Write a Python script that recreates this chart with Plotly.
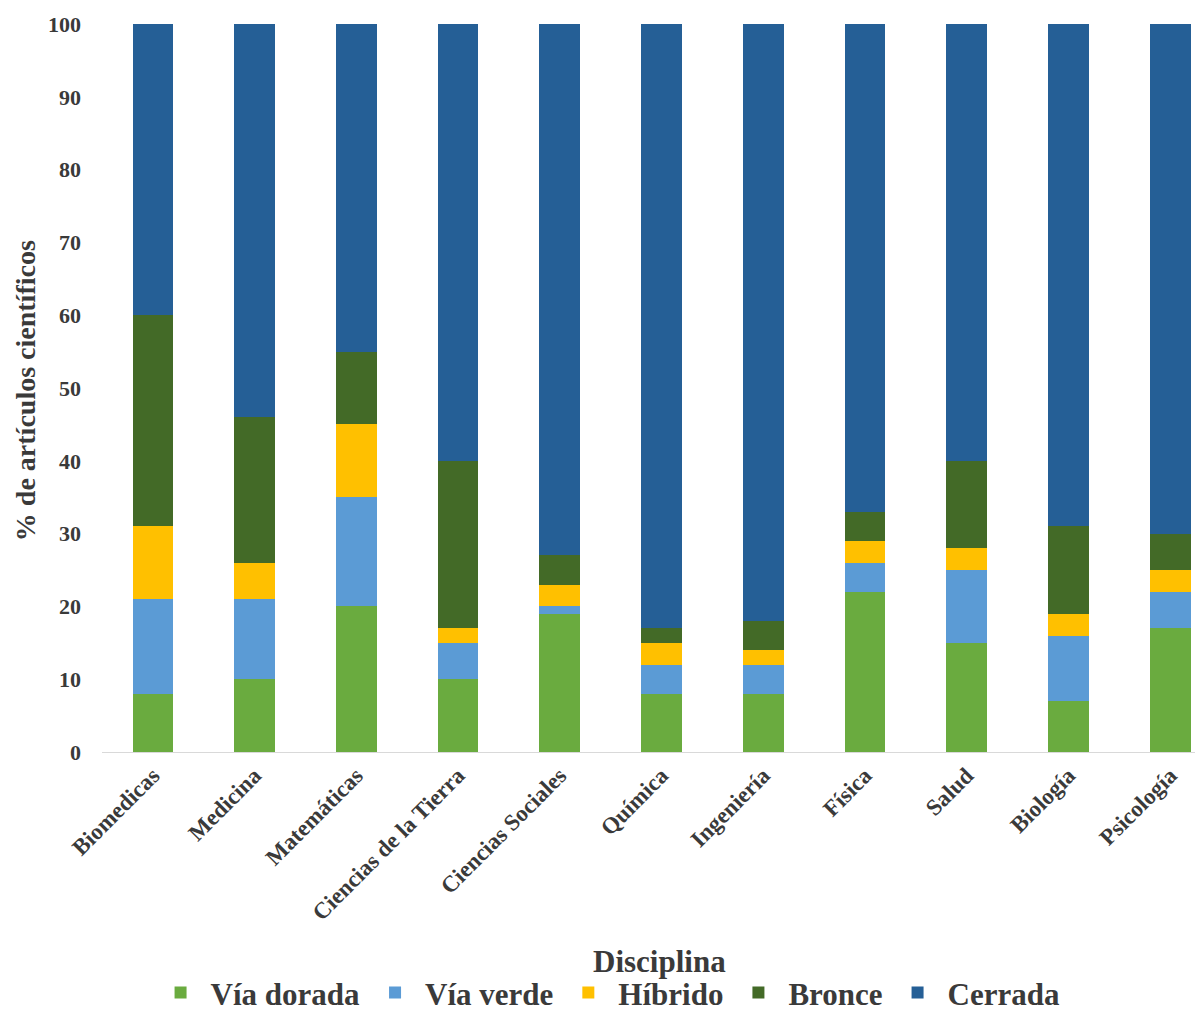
import plotly.graph_objects as go

categories = ["Biomedicas", "Medicina", "Matemáticas", "Ciencias de la Tierra", "Ciencias Sociales",
              "Química", "Ingeniería", "Física", "Salud", "Biología", "Psicología"]
via_dorada = [8, 10, 20, 10, 19, 8, 8, 22, 15, 7, 17]
via_verde = [13, 11, 15, 5, 1, 4, 4, 4, 10, 9, 5]
hibrido = [10, 5, 10, 2, 3, 3, 2, 3, 3, 3, 3]
bronce = [29, 20, 10, 23, 4, 2, 4, 4, 12, 12, 5]
cerrada = [40, 54, 45, 60, 73, 83, 82, 67, 60, 69, 70]
y_ticks = [0, 10, 20, 30, 40, 50, 60, 70, 80, 90, 100]

series = [
    ("Vía dorada", via_dorada, "#6AAB3F"),
    ("Vía verde", via_verde, "#5B9BD5"),
    ("Híbrido", hibrido, "#FFC000"),
    ("Bronce", bronce, "#436A27"),
    ("Cerrada", cerrada, "#255F96"),
]

FONT = "Liberation Serif"
TXT = "#3a3a3a"
fig = go.Figure()
for name, vals, col in series:
    fig.add_trace(go.Bar(x=categories, y=vals, name=name, marker_color=col,
                         marker_line_width=0))

fig.update_layout(
    barmode="stack",
    bargap=0.6,
    width=1195, height=1013,
    margin=dict(l=102, r=0, t=24, b=261, autoexpand=False),
    paper_bgcolor="white", plot_bgcolor="white",
    font=dict(family=FONT, color=TXT, weight="bold"),
    legend=dict(orientation="h", x=0.463, xanchor="center", y=-0.368, yanchor="bottom",
                font=dict(family=FONT, size=31, color=TXT, weight="bold"),
                itemwidth=50, tracegroupgap=0, traceorder="normal"),
    annotations=[
        dict(text="Disciplina", xref="paper", yref="paper", x=0.51, y=-0.288,
             xanchor="center", yanchor="middle", showarrow=False,
             font=dict(family=FONT, size=31, color=TXT, weight="bold")),
        dict(text="% de artículos científicos", xref="paper", yref="paper",
             x=-0.0705, y=0.497, textangle=-90, xanchor="center", yanchor="middle",
             showarrow=False, font=dict(family=FONT, size=28, color=TXT, weight="bold")),
    ],
)
fig.update_xaxes(range=[-0.5, 10.244], tickangle=-45, showgrid=False, automargin=False,
                 showline=True, linecolor="#D9D9D9", linewidth=1, ticks="",
                 tickfont=dict(family=FONT, size=23, color=TXT, weight="bold"))
fig.update_yaxes(range=[0, 100], tickvals=y_ticks, showgrid=False, zeroline=False,
                 ticks="", ticklabelstandoff=20, automargin=False,
                 tickfont=dict(family=FONT, size=22, color=TXT, weight="bold"))
fig.write_html("out.html")
